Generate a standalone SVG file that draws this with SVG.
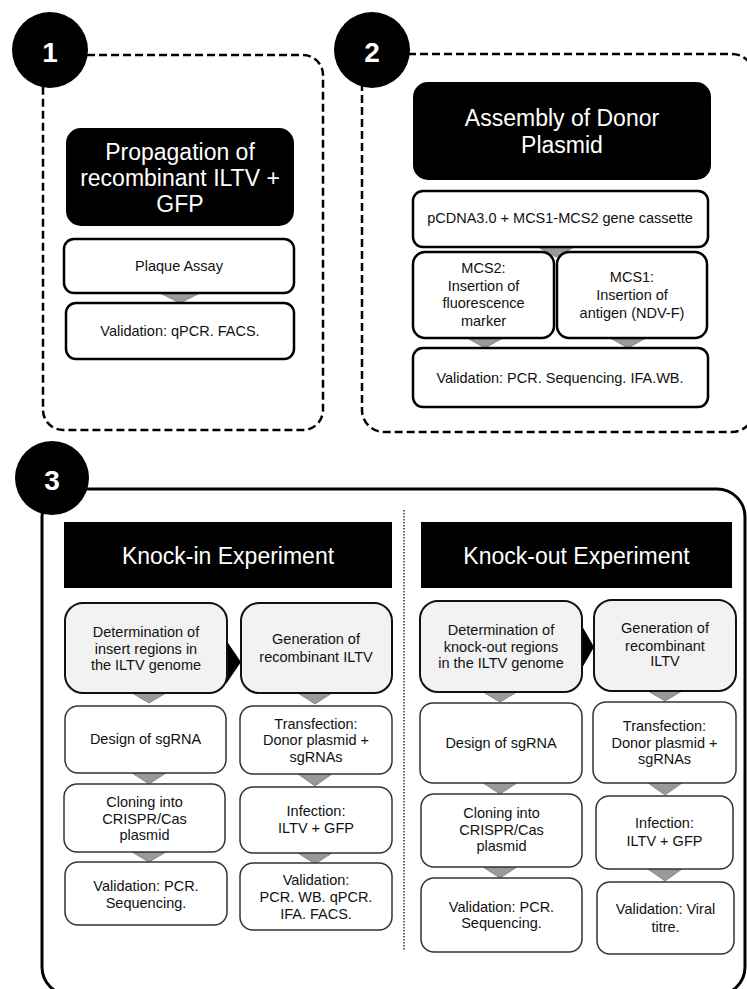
<svg xmlns="http://www.w3.org/2000/svg" width="747" height="989" viewBox="0 0 747 989">
<style>
.panel{fill:none;stroke:#000;stroke-width:2.5;stroke-dasharray:8 4}
.panel3{fill:none;stroke:#000;stroke-width:3}
.num{fill:#000}
.numt{font-family:"Liberation Sans",Arial,sans-serif;font-weight:bold;font-size:28px;fill:#fff;text-anchor:middle}
.hdr{fill:#000}
.ht{font-family:"Liberation Sans",Arial,sans-serif;font-size:23px;fill:#fff;text-anchor:middle}
.b1{fill:#fff;stroke:#000;stroke-width:2.5}
.b3{fill:#fff;stroke:#333;stroke-width:1.5}
.bg{fill:#f2f2f2;stroke:#111;stroke-width:2}
.t{font-family:"Liberation Sans",Arial,sans-serif;font-size:14.5px;fill:#111;text-anchor:middle}
.arr{fill:#999;stroke:#777;stroke-width:0.8}
.chev{fill:#000}
.div{stroke:#333;stroke-width:1.5;stroke-dasharray:1.5 1.5}
</style>

<!-- panel frames -->
<g id="panel1-frame"><rect class="panel" x="43" y="55" width="280" height="375" rx="20"/></g>
<g id="panel2-frame"><rect class="panel" x="362" y="54" width="392" height="378" rx="22"/></g>
<g id="panel3-frame"><rect class="panel3" x="42" y="489" width="703" height="506" rx="28"/></g>
<line class="div" x1="404" y1="510" x2="404" y2="950"/>

<!-- number badges -->
<g id="badge1"><circle class="num" cx="50" cy="50" r="38"/><text class="numt" x="50" y="62">1</text></g>
<g id="badge2"><circle class="num" cx="372" cy="50" r="38"/><text class="numt" x="372" y="62">2</text></g>
<g id="badge3"><circle class="num" cx="52" cy="478" r="37"/><text class="numt" x="52" y="490">3</text></g>

<!-- connectors -->
<g id="connectors">
  <polygon class="arr" points="160,293 200,293 180,303"/>
  <polygon class="arr" points="538,247 574,247 556,257"/>
  <polygon class="arr" points="467,338 503,338 485,348"/>
  <polygon class="arr" points="610,338 646,338 628,348"/>
  <polygon class="arr" points="132,693 166,693 149,703"/>
  <polygon class="arr" points="298,693 332,693 315,704"/>
  <polygon class="arr" points="132,773 166,773 149,784"/>
  <polygon class="arr" points="298,774 332,774 315,786"/>
  <polygon class="arr" points="132,852 166,852 149,862"/>
  <polygon class="arr" points="298,853 332,853 315,864"/>
  <polygon class="arr" points="483,692 517,692 500,702"/>
  <polygon class="arr" points="648,691 682,691 665,701"/>
  <polygon class="arr" points="483,783 517,783 500,794"/>
  <polygon class="arr" points="648,783 682,783 665,795"/>
  <polygon class="arr" points="483,867 517,867 500,878"/>
  <polygon class="arr" points="648,869 682,869 665,881"/>
  <polygon class="chev" points="226,640 241,662 226,684"/>
  <polygon class="chev" points="581,624 594,647 581,670"/>
</g>

<!-- panel 1 -->
<g id="p1-title"><rect class="hdr" x="66" y="128" width="228" height="98" rx="15"/>
<text class="ht" x="180" y="160">Propagation of</text><text class="ht" x="180" y="186">recombinant ILTV +</text><text class="ht" x="180" y="212">GFP</text></g>
<g id="p1-plaque"><rect class="b1" x="64" y="239" width="230" height="54" rx="10"/><text class="t" x="179" y="271">Plaque Assay</text></g>
<g id="p1-valid"><rect class="b1" x="66" y="303" width="228" height="56" rx="10"/><text class="t" x="180" y="336">Validation: qPCR. FACS.</text></g>

<!-- panel 2 -->
<g id="p2-title"><rect class="hdr" x="413" y="82" width="298" height="98" rx="15"/>
<text class="ht" x="562" y="126">Assembly of Donor</text><text class="ht" x="562" y="153">Plasmid</text></g>
<g id="p2-pcdna"><rect class="b1" x="413" y="191" width="295" height="56" rx="10"/><text class="t" x="560" y="223">pCDNA3.0 + MCS1-MCS2 gene cassette</text></g>
<g id="p2-mcs2"><rect class="b1" x="413" y="252" width="141" height="86" rx="12"/>
<text class="t" x="483.5" y="273">MCS2:</text><text class="t" x="483.5" y="291">Insertion of</text><text class="t" x="483.5" y="308">fluorescence</text><text class="t" x="483.5" y="326">marker</text></g>
<g id="p2-mcs1"><rect class="b1" x="557" y="252" width="150" height="86" rx="12"/>
<text class="t" x="632" y="282">MCS1:</text><text class="t" x="632" y="300">Insertion of</text><text class="t" x="632" y="318">antigen (NDV-F)</text></g>
<g id="p2-valid"><rect class="b1" x="413" y="348" width="295" height="59" rx="10"/><text class="t" x="560" y="383">Validation: PCR. Sequencing. IFA.WB.</text></g>

<!-- panel 3 knock-in -->
<g id="ki-title"><rect class="hdr" x="64" y="522" width="328" height="66"/><text class="ht" x="228" y="564">Knock-in Experiment</text></g>
<g id="ki-det"><rect class="bg" x="65" y="603" width="162" height="90" rx="18"/>
<text class="t" x="146" y="637">Determination of</text><text class="t" x="146" y="653.5">insert regions in</text><text class="t" x="146" y="670">the ILTV genome</text></g>
<g id="ki-gen"><rect class="bg" x="241" y="603" width="151" height="90" rx="18"/>
<text class="t" x="316" y="644">Generation of</text><text class="t" x="316" y="661.5">recombinant ILTV</text></g>
<g id="ki-design"><rect class="b3" x="65" y="706" width="161" height="67" rx="13"/><text class="t" x="145.5" y="744">Design of sgRNA</text></g>
<g id="ki-transf"><rect class="b3" x="240" y="706" width="152" height="68" rx="13"/>
<text class="t" x="316" y="728.5">Transfection:</text><text class="t" x="316" y="745">Donor plasmid +</text><text class="t" x="316" y="761.5">sgRNAs</text></g>
<g id="ki-clon"><rect class="b3" x="64" y="784" width="161" height="68" rx="13"/>
<text class="t" x="144.5" y="807">Cloning into</text><text class="t" x="144.5" y="823.5">CRISPR/Cas</text><text class="t" x="144.5" y="840">plasmid</text></g>
<g id="ki-inf"><rect class="b3" x="240" y="787" width="152" height="66" rx="13"/>
<text class="t" x="316" y="816">Infection:</text><text class="t" x="316" y="833">ILTV + GFP</text></g>
<g id="ki-val1"><rect class="b3" x="65" y="862" width="162" height="63" rx="13"/>
<text class="t" x="146" y="891">Validation: PCR.</text><text class="t" x="146" y="908">Sequencing.</text></g>
<g id="ki-val2"><rect class="b3" x="240" y="863" width="152" height="67" rx="13"/>
<text class="t" x="316" y="885">Validation:</text><text class="t" x="316" y="902">PCR. WB. qPCR.</text><text class="t" x="316" y="918.5">IFA. FACS.</text></g>

<!-- panel 3 knock-out -->
<g id="ko-title"><rect class="hdr" x="421" y="522" width="311" height="66"/><text class="ht" x="576.5" y="564">Knock-out Experiment</text></g>
<g id="ko-det"><rect class="bg" x="420" y="601" width="162" height="91" rx="18"/>
<text class="t" x="501" y="635">Determination of</text><text class="t" x="501" y="652">knock-out regions</text><text class="t" x="501" y="668">in the ILTV genome</text></g>
<g id="ko-gen"><rect class="bg" x="594" y="600" width="142" height="91" rx="18"/>
<text class="t" x="665" y="633">Generation of</text><text class="t" x="665" y="651">recombinant</text><text class="t" x="665" y="666">ILTV</text></g>
<g id="ko-design"><rect class="b3" x="420" y="703" width="162" height="80" rx="13"/><text class="t" x="501" y="748">Design of sgRNA</text></g>
<g id="ko-transf"><rect class="b3" x="593" y="702" width="143" height="81" rx="13"/>
<text class="t" x="664.5" y="731">Transfection:</text><text class="t" x="664.5" y="748">Donor plasmid +</text><text class="t" x="664.5" y="764">sgRNAs</text></g>
<g id="ko-clon"><rect class="b3" x="421" y="794" width="161" height="73" rx="13"/>
<text class="t" x="501.5" y="818">Cloning into</text><text class="t" x="501.5" y="835">CRISPR/Cas</text><text class="t" x="501.5" y="851">plasmid</text></g>
<g id="ko-inf"><rect class="b3" x="596" y="796" width="137" height="73" rx="13"/>
<text class="t" x="664.5" y="828">Infection:</text><text class="t" x="664.5" y="846">ILTV + GFP</text></g>
<g id="ko-val1"><rect class="b3" x="421" y="878" width="161" height="74" rx="13"/>
<text class="t" x="501.5" y="912">Validation: PCR.</text><text class="t" x="501.5" y="928">Sequencing.</text></g>
<g id="ko-val2"><rect class="b3" x="597" y="882" width="137" height="72" rx="13"/>
<text class="t" x="665.5" y="914">Validation: Viral</text><text class="t" x="665.5" y="932">titre.</text></g>
</svg>
